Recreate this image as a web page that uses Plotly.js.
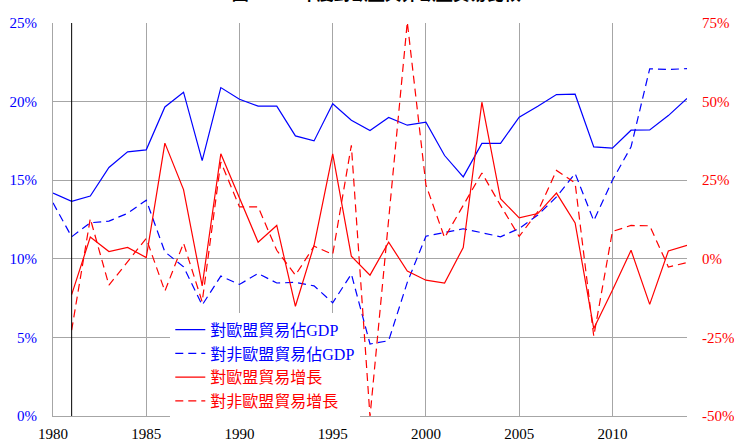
<!DOCTYPE html>
<html>
<head>
<meta charset="utf-8">
<script src="https://cdn.plot.ly/plotly-3.0.1.min.js"></script>
<style>
html,body{margin:0;padding:0;background:#fff;}
#chart{width:734px;height:441px;}
</style>
</head>
<body>
<div id="chart"></div>
<script>
const years = [1980,1981,1982,1983,1984,1985,1986,1987,1988,1989,1990,1991,1992,1993,1994,1995,1996,1997,1998,1999,2000,2001,2002,2003,2004,2005,2006,2007,2008,2009,2010,2011,2012,2013,2014];

const euTradeGdp = [14.18,13.65,13.99,15.81,16.80,16.93,19.66,20.60,16.25,20.89,20.15,19.71,19.71,17.82,17.50,19.86,18.82,18.16,18.99,18.50,18.69,16.57,15.21,17.34,17.34,19.01,19.71,20.45,20.47,17.12,17.04,18.18,18.20,19.11,20.20];

const nonEuTradeGdp = [13.56,11.40,12.29,12.40,12.89,13.73,10.44,9.49,7.06,8.90,8.37,9.07,8.46,8.50,8.28,7.20,9.03,4.58,4.79,8.50,11.44,11.68,11.91,11.66,11.40,11.93,12.78,13.94,15.43,12.42,15.00,17.12,22.09,22.04,22.10];

const euTradeGrowth = [null,-11.4,6.9,2.3,3.6,0.4,36.8,22.0,-8.6,33.4,19.3,5.3,10.6,-15.1,4.3,33.4,0.8,-5.2,5.3,-3.9,-6.8,-7.7,3.6,49.8,19.1,13.0,14.4,20.9,11.4,-22.2,-10.0,2.7,-14.5,2.5,4.3];

const nonEuTradeGrowth = [null,-22.7,12.8,-8.4,-1.0,6.5,-10.3,5.0,-13.7,30.8,16.5,16.5,2.7,-5.2,4.0,1.4,36.1,-50.2,12.5,75.3,23.5,6.7,17.0,27.3,17.0,7.1,15.0,28.1,24.1,-24.6,8.7,10.6,10.5,-2.6,-1.2];

const seriesNames = ['對歐盟貿易佔GDP','對非歐盟貿易佔GDP','對歐盟貿易增長','對非歐盟貿易增長'];
const titleText = '圖一　　年度對歐盟與非歐盟貿易比較';

const xTickVals = [1980,1985,1990,1995,2000,2005,2010];
const leftTickVals = [0,5,10,15,20,25];
const leftTickText = ['0%','5%','10%','15%','20%','25%'];
const rightTickVals = [-50,-25,0,25,50,75];
const rightTickText = ['-50%','-25%','0%','25%','50%','75%'];
const markerYear = 1981;

const BLUE = '#0000ff', RED = '#ff0000';
const DASH = '8px,5px';
const serif = '"Liberation Serif","Times New Roman","Noto Sans CJK TC",serif';
const seriesColors = [BLUE, BLUE, RED, RED];

function nm(t, c){ return '<span style="color:'+c+'">'+t+'</span>'; }

const traces = [
  {x: years, y: euTradeGdp, name: nm(seriesNames[0], BLUE), type:'scatter', mode:'lines',
   line:{color:BLUE, width:1.2}, yaxis:'y', legendgroup:'a'},
  {x: years, y: nonEuTradeGdp, name: nm(seriesNames[1], BLUE), type:'scatter', mode:'lines',
   line:{color:BLUE, width:1.2, dash:DASH}, yaxis:'y', legendgroup:'b'},
  {x: years, y: euTradeGrowth, name: nm(seriesNames[2], RED), type:'scatter', mode:'lines',
   line:{color:RED, width:1.2}, yaxis:'y2', legendgroup:'c', connectgaps:false},
  {x: years, y: nonEuTradeGrowth, name: nm(seriesNames[3], RED), type:'scatter', mode:'lines',
   line:{color:RED, width:1.2, dash:DASH}, yaxis:'y2', legendgroup:'d', connectgaps:false}
];

const gridColor = '#a6a6a6';

const layout = {
  width: 734, height: 441,
  margin: {l:53, r:47, t:23, b:25, pad:0},
  paper_bgcolor:'#ffffff', plot_bgcolor:'#ffffff',
  showlegend: true,
  title: {text: titleText, x: 0.51, xanchor:'center', xref:'paper',
          y: 1, yref:'container', yanchor:'bottom', pad:{t:0, b:0},
          font:{family:'"Noto Sans CJK TC",sans-serif', size:17, color:'#000', weight:'bold'}},
  xaxis: {range:[1980,2014], tickmode:'array', tickvals:xTickVals, ticktext:xTickVals.map(String),
          showgrid:true, gridcolor:gridColor, gridwidth:1, zeroline:false,
          showline:true, linecolor:gridColor, linewidth:1,
          ticks:'outside', ticklen:4, tickcolor:'rgba(0,0,0,0)',
          tickfont:{family:serif, size:15, color:'#000'}, fixedrange:true},
  yaxis: {range:[0,25], tickmode:'array', tickvals:leftTickVals, ticktext:leftTickText,
          showgrid:true, gridcolor:gridColor, gridwidth:1, zeroline:false,
          showline:true, linecolor:gridColor, linewidth:1,
          ticks:'outside', ticklen:12, tickcolor:'rgba(0,0,0,0)',
          tickfont:{family:serif, size:15, color:BLUE}, fixedrange:true},
  yaxis2: {range:[-50,75], overlaying:'y', side:'right', tickmode:'array',
           tickvals:rightTickVals, ticktext:rightTickText,
           showgrid:false, zeroline:false, showline:false,
           ticks:'outside', ticklen:11, tickcolor:'rgba(0,0,0,0)',
           tickfont:{family:serif, size:15, color:RED}, fixedrange:true},
  legend: {x:0.185, y:0.263, xanchor:'left', yanchor:'top',
           bgcolor:'#ffffff', borderwidth:0, tracegroupgap:4,
           font:{family:serif, size:16, color:'#000'}, traceorder:'normal'},
  shapes: [{type:'line', xref:'x', yref:'paper', x0:markerYear, x1:markerYear, y0:0, y1:1,
            line:{color:'#000', width:1}, showlegend:false}]
};

Plotly.newPlot('chart', traces, layout, {displayModeBar:false, staticPlot:true}).then(function(gd){
  // make sure legend line samples carry their series colours
  const items = gd.querySelectorAll('.legend .traces');
  items.forEach(function(it, i){
    const c = seriesColors[i];
    if (!c) return;
    it.querySelectorAll('.js-line').forEach(function(p){ p.style.stroke = c; });
  });
});
</script>
</body>
</html>
